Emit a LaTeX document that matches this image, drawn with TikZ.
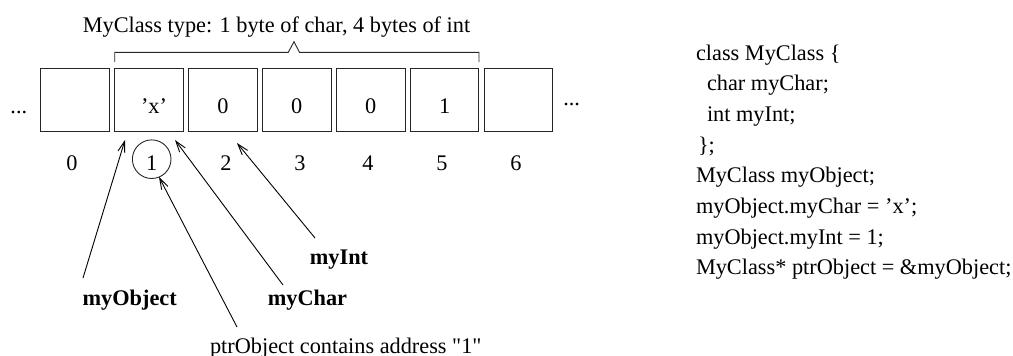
\documentclass[tikz,border=0pt]{standalone}
\usepackage{fontspec}
\setmainfont{Liberation Serif}[Ligatures=TeXOff]
\usetikzlibrary{arrows.meta}
\begin{document}
\begin{tikzpicture}[x=1pt,y=-1pt,
  every node/.style={inner sep=0pt,outer sep=0pt,font=\fontsize{22.3}{30.7}\selectfont},
  cell/.style={draw=black!85,line width=1pt,minimum width=68.5pt,minimum height=63.4pt},
  txt/.style={anchor=base},
  lbl/.style={anchor=base,font=\fontsize{22.3}{30.7}\selectfont\bfseries},
  ptr/.style={line width=0.9pt,-{Straight Barb[length=11pt,width=7pt]}},
  codeline/.style={anchor=base west},
]
\useasboundingbox (0,0) rectangle (1013,356);

% memory cells
\foreach \i/\x in {0/75,1/148.8,2/222.9,3/296.8,4/370.8,5/444.7,6/518.7}
  \node[cell] (b\i) at (\x,100) {};

% cell contents
\node[txt] (vx) at (154,113) {’x’};
\node[txt] (v2) at (b2.center |- 0,113) {0};
\node[txt] (v3) at (b3.center |- 0,113) {0};
\node[txt] (v4) at (b4.center |- 0,113) {0};
\node[txt] (v5) at (b5.center |- 0,113) {1};
\node[txt] (dl) at (18.8,113) {...};
\node[txt] (dr) at (571.7,105) {...};

% addresses
\foreach \i/\x in {0/72,1/151.7,2/226,3/300,4/368,5/442,6/516}
  \node[txt] (a\i) at (\x,170) {\i};
\node[draw=black!85,line width=0.9pt,circle,minimum size=38.6pt] (ring) at (151.7,159.2) {};

% brace over the object
\draw[line width=0.9pt,black!85] (114.7,62) -- (114.7,52.3) -- (288.3,52.3) -- (294,41.7)
  -- (299.5,52.3) -- (479,52.3) -- (479,62);
\node[txt] (title) at (276.5,32.3) {MyClass type: 1 byte of char, 4 bytes of int};

% labels
\node[lbl] (lobj) at (129.7,305.7) {myObject};
\node[lbl] (lchar) at (307.5,305.7) {myChar};
\node[lbl] (lint) at (339,264) {myInt};
\node[txt] (lptr) at (345.8,353) {ptrObject contains address "1"};

% arrow ends
\coordinate (sobj) at (83,278);
\coordinate (tobj) at (125,140);
\coordinate (sptr) at (237,327);
\coordinate (tptr) at (159,177);
\coordinate (schar) at (283,285);
\coordinate (tchar) at (175,140);
\coordinate (sint) at (315,238);
\coordinate (tint) at (237,143);
\draw[ptr] (sobj) -- (tobj);
\draw[ptr] (sptr) -- (tptr);
\draw[ptr] (schar) -- (tchar);
\draw[ptr] (sint) -- (tint);

% source code
\node[codeline] (c1) at (696,60) {class MyClass \{};
\node[codeline] (c2) at (707,90.7) {char myChar;};
\node[codeline] (c3) at (707,121.4) {int myInt;};
\node[codeline] (c4) at (698,152.1) {\};};
\node[codeline] (c5) at (696,182.8) {MyClass myObject;};
\node[codeline] (c6) at (696,213.5) {myObject.myChar = ’x’;};
\node[codeline] (c7) at (696,244.2) {myObject.myInt = 1;};
\node[codeline] (c8) at (696,274.9) {MyClass* ptrObject = \&myObject;};
\end{tikzpicture}
\end{document}
